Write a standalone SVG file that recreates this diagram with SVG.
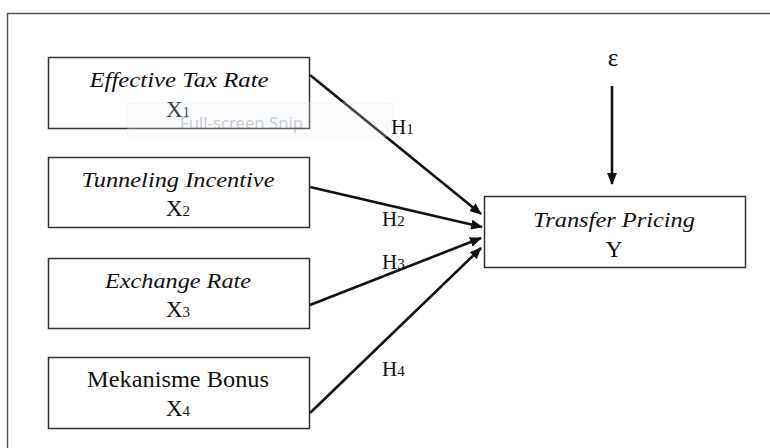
<svg xmlns="http://www.w3.org/2000/svg" width="770" height="448" viewBox="0 0 770 448">
<style>
.box{fill:#fff;stroke:#333;stroke-width:1.5}
.t{font-family:"Liberation Serif","Times New Roman",serif;fill:#111;text-anchor:middle}
.it{font-style:italic;font-size:22px}
.up{font-size:23px}
.sub{font-size:15px}
.lbl{font-family:"Liberation Serif","Times New Roman",serif;fill:#111;font-size:21px}
.con{stroke:#111;stroke-width:2.6;fill:none;marker-end:url(#ah)}
</style>
<defs>
<marker id="ah" viewBox="0 0 12 10" refX="11" refY="5" markerWidth="12" markerHeight="10" markerUnits="userSpaceOnUse" orient="auto">
<path d="M0,0 L12,5 L0,10 Z" fill="#111"/>
</marker>
</defs>
<rect width="770" height="448" fill="#fff"/>
<path d="M7.5,448 V13.5 H770" fill="none" stroke="#555" stroke-width="1.5"/>
<g id="x1">
<rect class="box" x="48.5" y="57.5" width="261" height="71"/>
<text class="t it" x="179" y="87" textLength="179" lengthAdjust="spacingAndGlyphs">Effective Tax Rate</text>
<text class="t up" x="178" y="117">X<tspan class="sub">1</tspan></text>
</g>
<g id="x2">
<rect class="box" x="48.5" y="157.5" width="261" height="70"/>
<text class="t it" x="178" y="187" textLength="193" lengthAdjust="spacingAndGlyphs">Tunneling Incentive</text>
<text class="t up" x="178" y="216">X<tspan class="sub">2</tspan></text>
</g>
<g id="x3">
<rect class="box" x="48.5" y="258.5" width="261" height="70"/>
<text class="t it" x="178" y="288" textLength="146" lengthAdjust="spacingAndGlyphs">Exchange Rate</text>
<text class="t up" x="178" y="317">X<tspan class="sub">3</tspan></text>
</g>
<g id="x4">
<rect class="box" x="48.5" y="357.5" width="261" height="71"/>
<text class="t up" x="178" y="387" textLength="182" lengthAdjust="spacingAndGlyphs">Mekanisme Bonus</text>
<text class="t up" x="178" y="416">X<tspan class="sub">4</tspan></text>
</g>
<g id="y">
<rect class="box" x="484.5" y="196.5" width="261" height="71"/>
<text class="t it" x="614" y="227" textLength="162" lengthAdjust="spacingAndGlyphs">Transfer Pricing</text>
<text class="t up" x="614" y="257">Y</text>
</g>
<g id="epsilon">
<text class="t" x="613" y="66" font-size="25">ε</text>
</g>
<g id="connectors">
<line class="con" x1="310" y1="75" x2="481" y2="214"/>
<line class="con" x1="310" y1="187" x2="482" y2="227"/>
<line class="con" x1="310" y1="305" x2="481" y2="238"/>
<line class="con" x1="310" y1="413" x2="481" y2="248"/>
<line class="con" x1="612" y1="86" x2="612" y2="184"/>
<text class="lbl" x="391" y="134">H<tspan class="sub">1</tspan></text>
<text class="lbl" x="382" y="226">H<tspan class="sub">2</tspan></text>
<text class="lbl" x="382" y="269">H<tspan class="sub">3</tspan></text>
<text class="lbl" x="382" y="376">H<tspan class="sub">4</tspan></text>
</g>
<g id="watermark" opacity="0.45">
<rect x="128" y="103" width="264" height="33" fill="#eaf1fa" fill-opacity="0.5" stroke="#dde6f2" stroke-width="1"/>
<text x="180" y="129" font-family="'Noto Sans','Open Sans',sans-serif" font-size="16" fill="#8a9099" textLength="123" lengthAdjust="spacingAndGlyphs">Full-screen Snip</text>
</g>
</svg>
